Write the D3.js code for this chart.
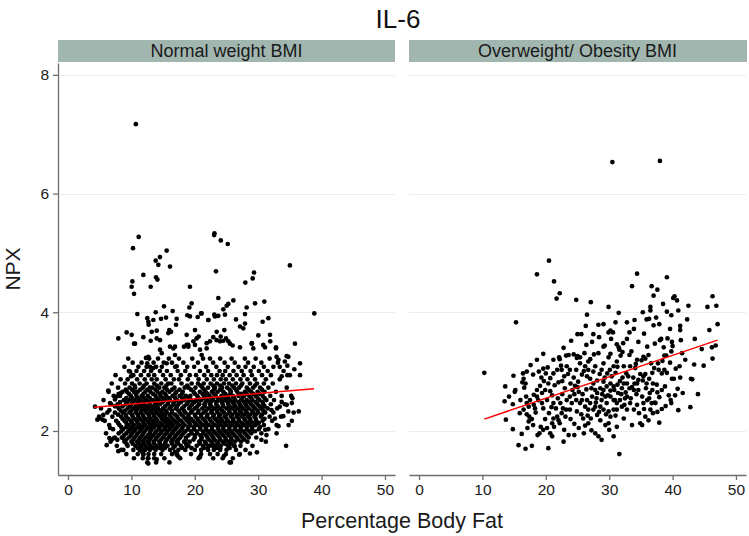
<!DOCTYPE html>
<html lang="en">
<head>
<meta charset="UTF-8">
<title>IL-6</title>
<script src="https://cdnjs.cloudflare.com/ajax/libs/d3/7.9.0/d3.min.js"></script>
<style>
    body { margin: 0; background: #fff; font-family: "Liberation Sans", Arial, sans-serif; }
    .axis path, .axis line { stroke: #6e6e6e; stroke-width: 1.3; }
    .axis text { font-size: 15.5px; fill: #1a1a1a; font-family: "Liberation Sans", Arial, sans-serif; }
    .grid { stroke: #e6eff1; stroke-width: 1; }
    .dot { fill: #000; }
    .fit { fill: none; stroke: #ff0000; stroke-width: 1.5; }
</style>
</head>
<body>
<div id="chart"></div>
<script>
const title = "IL-6";
const panelNames = ["Normal weight BMI", "Overweight/ Obesity BMI"];
const xTicks = [0, 10, 20, 30, 40, 50];
const yTicks = [2, 4, 6, 8];
const xTitle = "Percentage Body Fat";
const yTitle = "NPX";

// fitted lines (endpoints)
const normalFit = [[4.1, 2.40], [38.8, 2.71]];
const overFit = [[10.3, 2.20], [47.1, 3.53]];

// normal weight: scattered points outside the dense core
const normalPts = [
    [10.7,7.17],[11.15,5.27],[10.25,5.08],[23.1,5.33],[23.05,5.30],[24.1,5.21],[25.2,5.15],[35.0,4.79],
    [15.56,5.04],[14.5,4.93],[13.83,4.87],[14.25,4.80],[16.09,4.77],[11.88,4.63],[13.88,4.59],[14.1,4.55],
    [10.15,4.52],[10.04,4.43],[10.41,4.31],[13.04,4.43],[19.24,4.43],[19.5,4.15],[19.14,4.08],[10.94,3.97],
    [13.83,4.0],[15.14,4.10],[16.51,4.02],[12.51,3.90],[12.67,3.84],[12.72,3.79],[13.46,3.87],[14.67,3.89],
    [15.46,3.91],[17.14,3.89],[18.82,3.95],[19.24,3.93],[20.45,3.92],[20.98,3.98],[22.14,3.87],[13.99,3.69],
    [13.2,3.67],[15.98,3.70],[16.25,3.67],[15.83,3.65],[17.04,3.79],[20.03,3.70],[18.72,3.62],[20.29,3.56],
    [20.61,3.59],[9.25,3.66],[10.04,3.62],[7.94,3.56],[11.88,3.58],[13.04,3.52],[13.99,3.56],[14.51,3.53],
    [10.41,3.47],[16.88,3.42],[18.3,3.42],[18.98,3.45],[20.03,3.45],[21.87,3.48],
    [23.34,4.69],[29.34,4.67],[29.13,4.57],[27.97,4.50],[23.71,4.24],[25.29,4.14],[25.03,4.11],[26.08,4.20],
    [29.5,4.15],[30.97,4.18],[24.5,4.05],[24.76,3.96],[23.71,3.94],[23.08,3.96],[23.19,3.93],[22.13,3.87],
    [21.08,3.98],[28.18,4.08],[27.92,3.97],[26.5,3.88],[27.92,3.81],[27.13,3.76],[27.65,3.73],[31.6,3.90],
    [30.7,3.84],[31.86,3.62],[30.02,3.61],[38.85,3.98],
    [23.45,3.67],[24.66,3.70],[24.08,3.59],[22.92,3.58],[22.4,3.51],[23.45,3.53],[23.97,3.51],[24.5,3.52],
    [24.92,3.56],[25.29,3.51],[25.55,3.47],[25.97,3.44],[27.13,3.41],[28.97,3.47],[29.23,3.39],[31.07,3.41],
    [32.81,3.41],[35.8,3.47],
    [4.26,2.41],[4.63,2.19],[5.05,2.21],[5.57,2.27],[5.47,2.19],[6.36,2.68],[6.63,2.47],[6.52,2.35],
    [7.41,2.53],[7.68,2.58],[8.1,2.61],[8.36,2.64],[6.63,2.05],[6.52,1.88],[6.1,1.76],[6.89,1.85],
    [7.26,1.88],[7.78,1.85],[7.94,1.66],[8.73,1.68],[9.25,1.78],[8.62,1.88],[9.78,3.0],[10.2,2.94],
    [10.57,3.47],[9.94,2.92],[11.62,1.71],[12.15,1.68],[11.88,1.60],[12.67,1.54],[12.67,1.45],[13.99,1.52],
    [11.73,1.64],[17.14,1.6],[17.4,1.57],[16.88,1.65],[18.72,1.74],[19.5,1.71],[20.82,1.56],[12.3,3.23],
    [12.67,3.25],[12.51,3.14],[12.94,3.08],[13.46,3.06],[14.51,3.37],[14.78,3.31],[16.09,3.42],[16.62,3.39],
    [16.88,3.28],[15.56,3.14],[17.14,3.09],[18.72,3.45],[18.98,3.42],[19.77,3.51],[20.82,3.37],[21.08,3.28],
    [21.87,3.39],
    [36.6,3.14],[36.6,2.94],[35.7,3.04],[34.6,2.94],[35.0,2.94],[33.7,2.92],[34.75,3.25],[34.2,3.17],
    [34.6,3.10],[33.4,3.08],[35.4,2.55],[35.3,2.47],[33.7,2.49],[33.4,2.41],[34.5,2.44],[34.75,2.33],
    [33.96,2.25],[35.3,2.17],[36.4,2.33],[32.1,2.35],[32.65,2.21],[32.9,2.10],[33.2,2.08],[31.1,2.02],
    [31.3,1.93],[30.5,1.85],[34.4,1.75],[26.3,1.74],[28.7,1.62],[29.8,1.64],[27.0,1.60],[24.6,1.58],
    [25.7,1.47],[20.8,1.57],[22.0,1.71],[22.9,1.74],[24.0,1.71],[29.0,3.48],[30.8,3.45],[31.9,3.51],
    [32.8,3.39],[32.9,3.25],[33.2,3.20],[34.5,3.26]
];

// normal weight: dense core, read row by row (NPX value, body fat values)
const normalCore = [
    [3.22, [9.5,12.8,14.2,15.9,17.5,19.6,21.3,22.4,24.0,25.8,27.9,29.6,31.8]],
    [3.15, [10.2,11.6,13.5,15.1,16.4,18.2,20.5,22.9,24.7,26.3,28.4,30.5,33.1]],
    [3.08, [8.9,11.1,12.4,13.9,14.8,16.9,18.8,19.9,21.8,23.4,25.2,26.9,28.0,29.3,30.9,32.4]],
    [3.01, [9.6,10.8,12.0,13.1,14.5,15.6,17.3,18.5,20.8,22.1,23.9,24.8,26.1,27.4,28.8,30.1,31.5,34.0]],
    [2.94, [7.5,10.3,11.5,12.7,13.6,15.0,16.2,17.8,19.2,20.2,21.5,22.6,23.5,24.4,25.5,26.6,27.7,29.0,30.6,32.0]],
    [2.87, [8.3,9.4,10.9,12.1,13.2,14.0,15.4,16.7,17.5,18.9,20.6,21.9,23.0,24.1,24.9,26.0,27.2,28.3,29.5,31.2,33.4]],
    [2.80, [6.9,9.0,10.1,11.3,12.4,13.6,14.7,15.8,16.3,17.9,19.5,20.5,21.4,22.5,23.5,24.6,25.4,26.5,27.5,28.7,29.8,30.9,32.3]],
    [2.765, [10.5,12.0,14.0,15.5,18.8,20.9,22.9,24.0,25.9,27.3,29.5]],
    [2.73, [7.9,9.7,10.6,11.8,12.9,13.3,14.4,15.2,16.8,18.4,19.0,20.1,21.2,22.1,23.2,24.3,25.1,26.2,27.0,28.2,29.2,30.3,31.6,34.5]],
    [2.695, [9.1,10.1,11.4,12.5,13.8,15.6,16.4,17.6,19.4,21.5,23.0,24.0,25.5,26.5,28.5,30.6]],
    [2.66, [6.4,8.6,9.3,10.4,11.0,12.2,13.0,14.1,14.9,16.0,17.1,18.1,19.8,20.8,21.7,22.7,23.6,24.5,25.7,26.7,27.9,28.9,29.9,31.0,32.8]],
    [2.625, [8.0,9.6,10.7,11.9,13.4,14.5,15.3,16.9,18.0,20.0,21.2,22.0,23.0,24.8,25.6,27.3,28.2,29.2,30.2]],
    [2.59, [7.2,8.2,9.9,10.8,11.6,12.6,13.8,14.6,15.5,16.5,17.6,18.6,19.3,20.4,21.6,22.3,23.3,24.2,25.0,26.0,26.9,27.8,28.6,29.6,30.7,31.9,33.7,35.2]],
    [2.555, [9.2,10.1,11.0,12.0,12.9,14.0,14.9,15.9,16.9,18.0,19.0,20.6,21.4,22.6,23.6,24.4,25.3,26.2,27.5,28.9,29.9,31.0]],
    [2.52, [5.6,8.8,9.6,10.5,11.4,12.3,13.4,14.3,15.3,16.1,17.2,18.3,19.4,20.2,21.0,22.0,22.9,23.9,24.8,25.6,26.4,27.3,28.2,29.1,30.2,31.3,32.5]],
    [2.485, [8.2,9.3,10.2,11.0,11.9,12.8,13.9,14.9,15.8,16.7,17.8,18.9,19.9,20.6,21.7,22.5,23.4,24.3,25.2,26.0,26.9,27.8,28.6,29.6,30.7]],
    [2.45, [6.8,7.8,9.1,10.0,11.2,12.0,12.9,13.7,14.5,15.7,16.6,17.4,18.7,19.6,20.7,21.5,22.4,23.4,24.4,25.3,26.2,27.1,28.0,28.9,29.9,30.8,32.0,34.2]],
    [2.415, [7.4,8.6,9.8,10.7,11.5,12.3,13.1,14.0,15.3,16.3,17.2,18.3,19.3,20.4,21.6,22.6,23.6,24.5,25.5,26.4,27.3,28.2,29.2,30.2,31.0]],
    [2.38, [5.2,8.0,9.4,10.3,11.0,11.8,12.6,13.5,14.2,15.0,16.0,17.0,18.0,19.1,20.0,21.2,22.2,23.1,24.0,25.0,25.9,26.8,27.6,28.5,29.5,30.5,31.5,33.0]],
    [2.345, [8.3,9.0,10.0,10.8,11.6,12.2,13.0,13.8,14.6,15.4,16.4,17.4,18.3,19.6,20.6,21.8,22.7,23.5,24.3,25.4,26.3,27.1,28.0,29.0,29.9,30.8]],
    [2.31, [6.2,7.4,8.6,9.7,10.7,11.5,12.4,13.2,14.0,14.8,15.6,16.4,17.6,18.5,19.4,20.5,21.4,22.6,23.6,24.6,25.5,26.4,27.3,28.2,29.2,30.0,31.1,32.4,35.6]],
    [2.275, [7.9,9.1,10.1,11.0,11.8,12.7,13.5,14.3,15.1,16.0,16.9,17.9,19.0,20.0,21.0,22.0,23.0,24.0,25.0,25.9,26.9,27.8,28.7,29.6,30.6]],
    [2.24, [4.9,7.0,8.4,9.2,10.2,11.1,11.9,12.8,13.6,14.6,15.3,16.2,17.2,18.2,19.0,20.1,21.0,21.9,22.9,23.8,24.7,25.7,26.6,27.5,28.4,29.4,30.4,31.8,33.6]],
    [2.205, [8.6,9.5,10.5,11.3,12.2,13.0,13.9,14.8,15.6,16.5,17.4,18.5,19.4,20.4,21.3,22.3,23.2,24.1,25.0,26.0,26.9,27.8,28.7,29.6,31.0]],
    [2.17, [5.8,7.6,8.9,9.9,10.8,11.7,12.5,13.3,14.1,15.1,15.9,16.8,17.8,18.8,19.7,20.6,21.6,22.5,23.5,24.3,25.2,26.1,27.0,28.0,28.8,29.7,30.7,32.2]],
    [2.135, [7.9,9.2,10.1,11.0,11.9,12.8,13.6,14.5,15.5,16.3,17.2,18.1,19.1,20.0,20.9,21.8,22.8,23.8,24.7,25.6,26.5,27.4,28.3,29.2,30.1]],
    [2.10, [6.5,8.1,9.5,10.4,11.3,12.2,13.1,14.0,14.9,15.8,16.6,17.5,18.4,19.3,20.3,21.3,22.2,23.2,24.1,25.0,25.9,26.8,27.7,28.6,29.6,30.9,34.8]],
    [2.065, [8.4,9.2,10.1,11.0,11.8,12.7,13.6,14.5,15.4,16.3,17.2,18.1,19.0,19.8,20.8,21.7,22.7,23.6,24.5,25.5,26.4,27.3,28.2,29.1,30.3]],
    [2.03, [7.1,8.7,9.8,10.6,11.5,12.4,13.2,14.3,15.2,16.0,16.9,17.9,18.9,19.9,20.9,21.8,22.7,23.7,24.5,25.4,26.3,27.2,28.2,29.0,30.1,31.6]],
    [1.995, [8.4,9.5,10.4,11.3,12.1,13.0,13.9,14.8,15.7,16.6,17.6,18.5,19.4,20.3,21.3,22.1,23.0,23.9,24.8,25.7,26.7,27.6,28.6,29.5]],
    [1.96, [6.0,8.0,9.2,10.1,11.0,11.9,12.9,13.7,14.6,15.5,16.4,17.3,18.2,19.5,20.4,21.4,22.4,23.3,24.2,25.1,26.0,27.0,27.9,28.9,30.5,32.9]],
    [1.925, [8.8,9.9,10.8,11.7,12.6,13.4,14.3,15.2,16.1,17.0,17.9,19.0,20.0,20.9,21.8,22.7,23.6,24.5,25.4,26.3,27.2,28.2]],
    [1.89, [7.4,8.5,9.6,10.5,11.4,12.3,13.1,14.0,15.0,15.9,16.8,17.7,18.6,20.0,21.1,22.0,22.9,23.9,24.8,25.7,26.6,27.5,28.5,29.7]],
    [1.855, [9.2,10.3,11.2,12.0,12.9,13.8,14.7,15.6,16.5,17.4,18.6,19.8,21.0,22.2,23.1,24.0,24.9,25.8,26.8,27.8]],
    [1.82, [6.7,8.9,10.0,10.9,11.8,12.6,13.5,14.4,15.4,16.3,17.1,18.3,19.2,20.7,21.6,22.6,23.5,24.4,25.3,26.3,27.3,28.3,31.2]],
    [1.785, [10.2,11.2,12.0,12.8,13.6,14.5,15.3,16.4,17.4,18.6,20.8,21.8,22.8,23.7,24.7,25.7]],
    [1.75, [7.7,9.4,10.6,11.5,12.2,13.0,13.9,14.8,15.7,16.9,17.8,19.0,20.3,21.3,22.3,23.2,24.1,25.2,26.2,27.2,29.1]],
    [1.715, [11.0,12.5,13.4,14.4,15.3,16.6,18.0,21.4,23.5,25.5]],
    [1.68, [8.4,10.3,11.3,12.0,12.9,13.8,14.9,16.1,17.4,18.5,20.0,21.0,22.1,23.0,24.0,25.0,26.5,28.0]],
    [1.61, [9.2,11.0,11.9,12.7,13.6,14.7,16.4,17.2,19.4,21.0,22.4,23.6,24.9,27.1]],
    [1.54, [10.4,11.8,12.6,13.6,15.2,17.7,20.6,22.9,24.4,26.0]],
    [1.47, [12.5,13.9,16.0,25.5]]
];

// overweight / obesity points
const overPts = [
    [30.5,6.53],[38.0,6.55],
    [20.5,4.87],[18.6,4.64],[21.3,4.52],[22.2,4.32],[21.7,4.23],[24.8,4.21],[27.1,4.17],
    [34.4,4.65],[33.6,4.44],[39.1,4.59],[36.7,4.44],[37.6,4.38],[37.0,4.28],
    [40.3,4.27],[40.1,4.24],[40.7,4.20],[38.5,4.14],[42.5,4.11],[46.3,4.27],[45.5,4.09],[46.9,4.11],[47.1,3.80],
    [29.9,4.09],[31.5,3.99],[26.5,3.96],[15.3,3.83],[35.3,4.00],[36.5,4.09],[36.5,4.03],
    [39.1,4.01],[39.8,3.95],[40.9,4.03],[42.3,3.88],[37.4,3.91],[36.3,3.89],[35.9,3.88],[37.0,3.78],
    [34.0,3.87],[32.8,3.83],[31.0,3.83],[29.1,3.80],[28.3,3.79],[26.3,3.77],[41.2,3.77],[41.2,3.70],
    [29.9,3.66],[30.2,3.69],[30.6,3.66],[33.2,3.66],[27.5,3.63],[25.0,3.63],[25.6,3.63],
    [32.2,3.48],[29.3,3.44],[29.1,3.42],[26.4,3.45],[34.6,3.50],[38.0,3.53],[38.2,3.55],[39.2,3.56],[39.9,3.50],
    [37.2,3.47],[38.6,3.41],[41.3,3.53],[31.2,3.46],[31.5,3.41],[33.5,3.34],[33.2,3.28],
    [32.1,3.33],[31.8,3.27],[31.6,3.37],[29.9,3.24],[30.2,3.30],[28.3,3.31],[27.6,3.29],[27.0,3.21],[26.7,3.17],
    [26.1,3.31],[25.4,3.24],[24.9,3.23],[25.0,3.26],[24.4,3.29],[23.6,3.28],[23.2,3.27],[22.1,3.24],[22.2,3.21],[22.4,3.10],
    [41.5,3.31],[44.6,3.38],[46.2,3.41],[46.8,3.44],[46.3,3.22],[39.8,3.34],[40.0,3.43],[38.7,3.27],[39.0,3.27],
    [36.2,3.28],[35.7,3.22],[35.4,3.25],[35.1,3.19],[34.4,3.20],[34.2,3.13],[36.6,3.14],[37.1,3.06],[36.8,2.98],
    [37.7,3.14],[37.8,3.03],[38.3,2.97],[38.7,3.03],[39.1,2.98],[39.9,2.88],[40.2,2.88],[40.5,3.05],[41.1,3.09],
    [42.9,2.88],[43.1,2.87],[40.8,2.71],[41.6,2.64],[39.7,2.52],[39.8,2.47],
    [38.8,2.75],[38.3,2.69],[37.6,2.65],[37.9,2.57],[36.9,2.80],[36.8,2.69],[36.4,2.64],[36.3,2.55],[37.2,2.48],
    [34.9,2.96],[35.7,2.96],[35.3,2.85],[35.9,2.80],[35.8,2.72],[33.8,2.90],[34.0,2.80],[33.6,2.74],[33.9,2.69],[34.3,2.62],
    [32.7,2.97],[33.0,2.92],[32.8,2.80],[33.2,2.72],[32.6,2.65],[31.7,2.84],[31.3,2.78],[30.7,2.75],[30.8,2.69],[30.2,2.68],[31.4,2.64],
    [30.1,3.03],[29.7,2.97],[29.3,2.90],[29.1,2.83],[28.5,2.96],[28.1,2.85],[27.5,2.80],[27.8,2.69],[27.2,2.72],
    [26.5,2.92],[26.0,3.01],[25.7,2.95],[25.1,2.83],[24.6,2.76],[24.2,2.69],
    [23.5,2.96],[22.9,2.92],[22.6,2.84],[22.0,2.82],[21.4,2.77],[20.7,2.67],
    [20.3,3.07],[19.6,3.05],[20.0,2.97],[19.7,2.84],[19.1,2.76],[18.6,2.69],
    [17.6,3.11],[16.4,2.97],[16.5,2.88],[16.3,2.82],[15.2,2.69],[15.1,2.66],[16.8,2.80],[16.6,2.73],
    [13.5,2.50],[13.7,2.19],[14.8,2.03],[16.2,1.95],[15.7,1.76],[16.8,1.70],[17.8,1.75],[20.4,1.71],[10.3,2.98],
    [16.5,2.36],[17.0,2.28],[17.4,2.24],[17.8,2.20],[17.3,2.16],[18.4,2.31],[18.1,2.44],[18.8,2.52],
    [19.4,2.47],[19.6,2.38],[20.2,2.52],[19.2,2.07],[19.0,1.96],[18.7,1.93],[19.6,2.02],[20.2,2.05],
    [20.7,1.96],[21.0,1.91],[21.3,2.07],[22.2,2.13],[22.9,2.02],[22.8,1.82],[23.6,1.93],[24.5,1.93],
    [21.2,2.47],[21.6,2.38],[22.3,2.47],[22.7,2.38],[23.1,2.24],[23.3,2.52],[23.8,2.58],[24.1,2.47],
    [24.5,2.62],[24.8,2.52],[25.2,2.66],[25.4,2.47],[25.7,2.52],[23.8,2.36],[23.2,2.36],[22.5,2.30],
    [21.8,2.24],[21.2,2.21],[22.0,2.18],[21.0,2.13],
    [25.9,2.21],[26.2,2.09],[26.7,2.13],[27.1,2.21],[27.5,2.36],[27.8,2.41],[28.1,2.27],[27.8,1.96],
    [28.3,1.91],[28.8,1.85],[29.4,2.10],[29.9,2.13],[30.2,2.24],[30.7,1.91],[31.2,2.07],[31.6,1.61],
    [32.3,2.21],[32.8,2.36],[33.3,2.47],[33.6,2.10],[34.4,2.44],[34.9,2.13],[35.2,2.10],[35.7,2.24],
    [36.5,2.36],[37.3,2.47],[37.9,2.14],[38.3,2.37],
    [28.8,2.52],[29.4,2.58],[29.6,2.47],[30.2,2.58],[30.7,2.52],[31.2,2.47],[31.7,2.52],[32.0,2.41],
    [32.4,2.44],[32.8,2.58],[31.2,2.36],[30.7,2.36],[29.9,2.33],[29.1,2.36],[28.6,2.41],[27.0,2.47],
    [26.5,2.52],[26.2,2.41],[26.7,2.36],[27.3,2.58],[28.1,2.64],[28.6,2.72],[29.1,2.69],[29.6,2.75],
    [30.2,2.80],[32.0,2.72],[32.3,2.80],[34.4,2.80],[34.6,2.69],[35.2,2.58],[35.4,2.47],[36.0,2.52],
    [36.7,2.47],[37.5,2.78],[35.4,2.92],[34.1,3.06],[33.3,3.09],[32.3,3.09],[31.2,3.17],[30.7,3.09],
    [29.1,3.14],[28.8,3.03],[27.8,3.09],[27.5,3.00],[26.7,3.03],[26.2,3.09],[25.4,3.14],[24.8,3.03],
    [23.8,3.03],[23.3,3.09],[22.5,3.03],[21.8,3.03],[21.2,2.97],[20.7,2.89],[20.4,2.80],[19.9,2.69],
    [19.4,2.64],[18.6,2.58],[18.1,2.61],[17.5,2.52],[18.3,2.38],[17.3,2.41],[17.0,2.47],[16.9,2.58],
    [18.0,2.95],[18.9,3.00],[19.3,2.90],[21.0,2.60],[21.9,2.55],[22.6,2.62],[23.0,2.72],[23.9,2.80],
    [24.4,2.90],[25.0,2.74],[25.8,2.62],[26.4,2.70],[27.0,2.88],[28.0,2.55],[28.9,2.62],[29.8,2.60],
    [30.4,2.92],[31.0,2.98],[31.9,2.62],[32.5,2.55],[33.4,2.55],[33.9,2.36],[34.7,2.30],[35.5,2.37],
    [36.2,2.18],[36.9,2.30],[37.6,2.32],[38.9,2.42],[39.4,2.60],[40.4,2.60],[41.2,2.90],[42.0,3.20],
    [43.4,3.12],[44.0,2.62],[42.8,2.40],[40.9,2.35],[31.0,2.26],[30.0,2.02],[28.6,2.18],[27.2,2.01],
    [26.0,1.96],[25.2,2.05],[24.5,2.12],[23.9,2.20],[24.9,2.33],[25.6,2.28],[26.6,2.26],[27.9,2.48],
    [19.9,2.20],[20.5,2.30],[20.9,2.40],[18.0,2.10],[17.1,2.05],[16.0,2.52],[15.9,2.30],[14.8,2.45],
    [14.2,2.58],[13.6,2.75],[14.9,2.93],[17.0,3.00],[18.6,3.20],[19.6,3.30],[21.2,3.20],[22.8,3.40],
    [24.0,3.52],[27.3,3.50],[28.4,3.58],[30.3,3.55],[32.8,3.55],[33.9,3.72],[35.5,3.64],[36.0,3.42],
    [37.9,3.80],[39.6,3.72],[43.5,3.55],[44.9,3.10],[45.8,3.70],[38.4,3.18],[39.6,3.15],[36.3,2.88],
    [34.6,2.86],[32.1,2.90],[31.3,3.08],[30.9,2.52],[29.5,2.28],[28.4,2.32]
];

const W = 749, H = 536;
const panelLeft = [58, 409];
const panelW = 337;
const plotTop = 63, plotBottom = 475;

const svg = d3.select("#chart").append("svg")
    .attr("width", W)
    .attr("height", H);

const y = d3.scaleLinear().domain([1.258, 8.2]).range([plotBottom, plotTop]);

// flatten the core rows into points
const coreFlat = [];
normalCore.forEach(r => r[1].forEach(v => coreFlat.push([v, r[0]])));

const panelData = [
    { pts: normalPts.concat(coreFlat), fit: normalFit },
    { pts: overPts, fit: overFit }
];

svg.append("text")
    .attr("x", 398).attr("y", 28)
    .attr("text-anchor", "middle")
    .style("font-size", "26px")
    .style("fill", "#111")
    .text(title);

panelData.forEach((p, i) => {
    const x0 = panelLeft[i];
    const x = d3.scaleLinear().domain([-1.58, 51.58]).range([x0, x0 + panelW]);

    // header strip
    svg.append("rect")
        .attr("x", x0).attr("y", 40)
        .attr("width", panelW + (i === 1 ? 1 : 0)).attr("height", 22)
        .attr("fill", "#a2b6b0");
    svg.append("text")
        .attr("x", x0 + panelW / 2).attr("y", 57)
        .attr("text-anchor", "middle")
        .style("font-size", "18px")
        .style("fill", "#1a1a1a")
        .text(panelNames[i]);

    // gridlines
    svg.append("g").selectAll("line")
        .data(yTicks)
        .join("line")
        .attr("class", "grid")
        .attr("x1", x0).attr("x2", x0 + panelW)
        .attr("y1", d => Math.round(y(d)) + 0.5)
        .attr("y2", d => Math.round(y(d)) + 0.5);

    // x axis
    svg.append("g")
        .attr("class", "axis")
        .attr("transform", `translate(0,${plotBottom})`)
        .call(d3.axisBottom(x).tickValues(xTicks).tickSize(5).tickSizeOuter(0).tickPadding(4));

    // points
    svg.append("g").selectAll("circle")
        .data(p.pts)
        .join("circle")
        .attr("class", "dot")
        .attr("cx", d => x(d[0]))
        .attr("cy", d => y(d[1]))
        .attr("r", 2.35);

    // fitted line
    svg.append("path")
        .datum(p.fit)
        .attr("class", "fit")
        .attr("d", d3.line().x(d => x(d[0])).y(d => y(d[1])));
});

// y axis (left panel only)
svg.append("g")
    .attr("class", "axis")
    .attr("transform", `translate(${panelLeft[0]},0)`)
    .call(d3.axisLeft(y).tickValues(yTicks).tickFormat(d3.format("d")).tickSize(5).tickSizeOuter(0).tickPadding(4));

svg.append("text")
    .attr("transform", `translate(20,${(plotTop + plotBottom) / 2}) rotate(-90)`)
    .attr("text-anchor", "middle")
    .style("font-size", "21px")
    .style("fill", "#1a1a1a")
    .text(yTitle);

svg.append("text")
    .attr("x", (panelLeft[0] + panelLeft[1] + panelW) / 2).attr("y", 528)
    .attr("text-anchor", "middle")
    .style("font-size", "21.5px")
    .style("fill", "#1a1a1a")
    .text(xTitle);
</script>
</body>
</html>
